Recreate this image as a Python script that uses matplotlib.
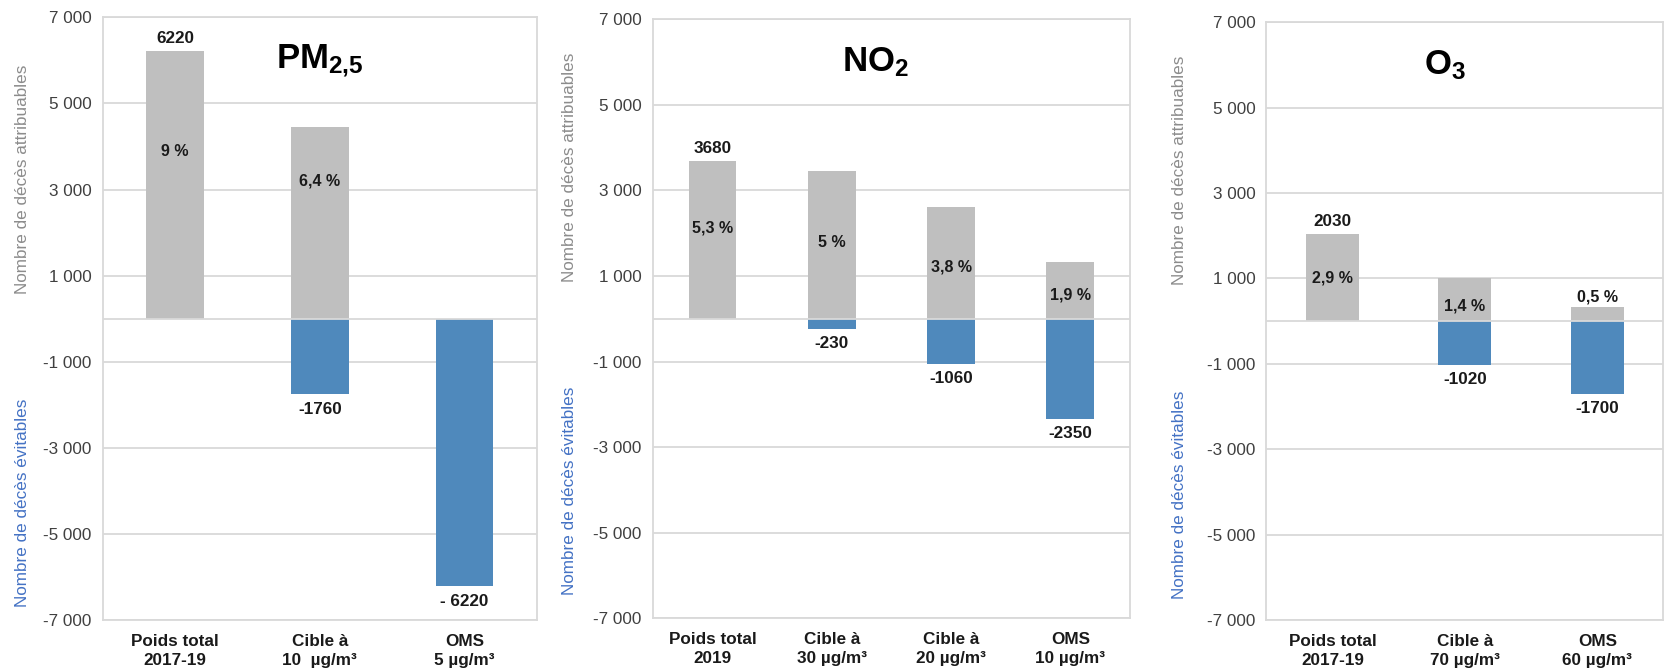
import matplotlib
matplotlib.use("Agg")
import matplotlib.pyplot as plt
import numpy as np

plt.rcParams["font.family"] = ["Liberation Sans", "DejaVu Sans"]
plt.rcParams["mathtext.fontset"] = "custom"
plt.rcParams["mathtext.rm"] = "Liberation Sans"
plt.rcParams["mathtext.bf"] = "Liberation Sans:bold"
plt.rcParams["mathtext.it"] = "Liberation Sans:italic"

# ---- data -------------------------------------------------------------
pm_labels = ["Poids total\n2017-19", "Cible à\n10  µg/m³", "OMS\n5 µg/m³"]
pm_total = 6220
pm_avoided = [0, -1760, -6220]
pm_pct = ["9 %", "6,4 %", None]

no2_labels = ["Poids total\n2019", "Cible à\n30 µg/m³", "Cible à\n20 µg/m³", "OMS\n10 µg/m³"]
no2_total = 3680
no2_avoided = [0, -230, -1060, -2350]
no2_pct = ["5,3 %", "5 %", "3,8 %", "1,9 %"]

o3_labels = ["Poids total\n2017-19", "Cible à\n70 µg/m³", "OMS\n60 µg/m³"]
o3_total = 2030
o3_avoided = [0, -1020, -1700]
o3_pct = ["2,9 %", "1,4 %", "0,5 %"]

yticks = [7000, 5000, 3000, 1000, -1000, -3000, -5000, -7000]

# ---- layout -----------------------------------------------------------
pm_pct_y = [3880, 3200, None]
no2_pct_y = [2130, 1790, 1220, 560]
o3_pct_y = [1010, 350, 570]

GREY = "#bfbfbf"
BLUE = "#4f89bc"
GRID = "#d9d9d9"
TICK = "#404040"
LBL_GREY = "#8c8c8c"
LBL_BLUE = "#4472c4"

fig = plt.figure(figsize=(16.67, 6.71), dpi=100)

panels = [
    dict(rect=[0.0617, 0.0760, 0.2603, 0.8982], labels=pm_labels, total=pm_total,
         avoided=pm_avoided, pct=pm_pct, pct_y=pm_pct_y,
         title=r"$\mathbf{PM_{2{,}5}}$", title_x=1.0, ylab_x=-0.186,
         ylab_top=0.731, ylab_bot=0.194, neg_fmt=["", "-{}", "- {}"]),
    dict(rect=[0.3917, 0.0785, 0.2861, 0.8927], labels=no2_labels, total=no2_total,
         avoided=no2_avoided, pct=no2_pct, pct_y=no2_pct_y,
         title=r"$\mathbf{NO_2}$", title_x=1.37, ylab_x=-0.175,
         ylab_top=0.753, ylab_bot=0.213, neg_fmt=["", "-{}", "-{}", "-{}"]),
    dict(rect=[0.7597, 0.0760, 0.2382, 0.8908], labels=o3_labels, total=o3_total,
         avoided=o3_avoided, pct=o3_pct, pct_y=o3_pct_y,
         title=r"$\mathbf{O_3}$", title_x=0.85, ylab_x=-0.219,
         ylab_top=0.752, ylab_bot=0.21, neg_fmt=["", "-{}", "-{}"]),
]

for p in panels:
    ax = fig.add_axes(p["rect"])
    n = len(p["labels"])
    x = np.arange(n)
    avoided = np.array(p["avoided"])
    remaining = p["total"] + avoided  # deaths still attributable after the target

    ax.bar(x, remaining, width=0.4, color=GREY, zorder=2)
    ax.bar(x, avoided, width=0.4, color=BLUE, zorder=2)
    ax.axhline(0, color=GRID, lw=1.3, zorder=3)

    ax.set_xlim(-0.5, n - 0.5)
    ax.set_ylim(-7000, 7000)
    ax.set_yticks(yticks)
    ax.set_yticklabels([f"{v:,}".replace(",", " ") for v in yticks],
                       fontsize=12.3, color=TICK)
    ax.set_xticks(x)
    ax.set_xticklabels(p["labels"], fontsize=12.3, fontweight="bold",
                       color="#1a1a1a", linespacing=1.35)
    ax.tick_params(axis="both", length=0)
    ax.tick_params(axis="x", pad=10)
    ax.tick_params(axis="y", pad=8)

    ax.grid(axis="y", color=GRID, lw=1.3, zorder=0)
    ax.set_axisbelow(True)
    for s in ax.spines.values():
        s.set_color(GRID)
        s.set_linewidth(1.3)

    # total on top of the first bar
    ax.annotate(str(p["total"]), (0, p["total"]), xytext=(0, 9),
                textcoords="offset points", ha="center", va="center",
                fontsize=12.3, fontweight="bold", color="#1a1a1a")
    # avoided deaths below the blue bars
    for i in range(1, n):
        ax.annotate(p["neg_fmt"][i].format(abs(int(avoided[i]))), (i, avoided[i]),
                    xytext=(0, -10.5), textcoords="offset points",
                    ha="center", va="center", fontsize=12.3,
                    fontweight="bold", color="#1a1a1a")
    # share of mortality
    for i in range(n):
        if p["pct"][i] is not None:
            ax.text(i, p["pct_y"][i], p["pct"][i], ha="center", va="center",
                    fontsize=11.5, fontweight="bold", color="#1a1a1a", zorder=4)

    ax.text(p["title_x"], 6000, p["title"], ha="center", va="center",
            fontsize=25, color="black")

    ax.text(p["ylab_x"], p["ylab_top"], "Nombre de décès attribuables",
            transform=ax.transAxes, rotation=90, ha="center", va="center",
            fontsize=12.3, color=LBL_GREY)
    ax.text(p["ylab_x"], p["ylab_bot"], "Nombre de décès évitables",
            transform=ax.transAxes, rotation=90, ha="center", va="center",
            fontsize=12.3, color=LBL_BLUE)

fig.savefig("out.png", dpi=100)
